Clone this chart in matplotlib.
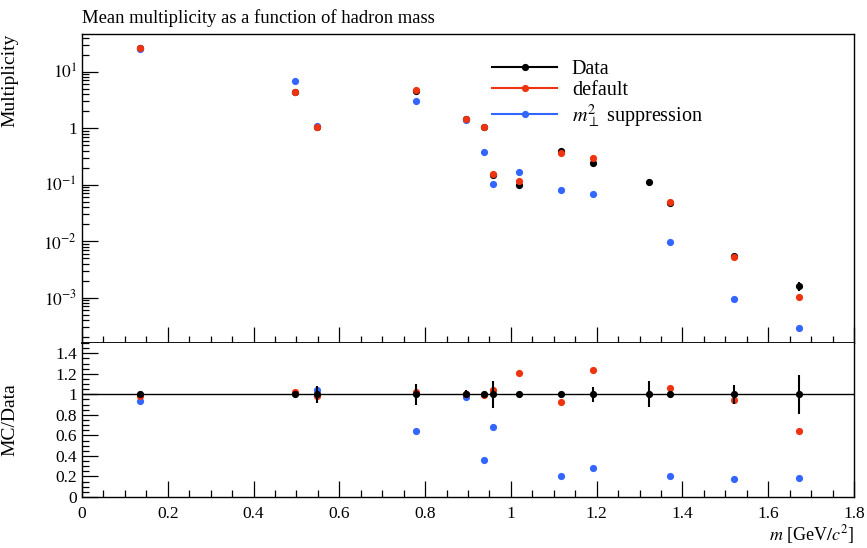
import numpy as np
import matplotlib
matplotlib.use("Agg")
import matplotlib.pyplot as plt
from matplotlib.ticker import FixedLocator, FixedFormatter, MultipleLocator, LogLocator, NullFormatter
from matplotlib.lines import Line2D

# ---- data ----
mass = [0.1350, 0.4976, 0.5479, 0.7790, 0.8960, 0.9383, 0.9578, 1.0195,
        1.1157, 1.1914, 1.3217, 1.3720, 1.5195, 1.6725]
data = [26.5, 4.30, 1.05, 4.60, 1.44, 1.05, 0.150, 0.097,
        0.395, 0.245, 0.110, 0.047, 0.0055, 0.00160]
data_relerr = [0.01, 0.01, 0.08, 0.10, 0.04, 0.01, 0.13, 0.01,
               0.01, 0.075, 0.127, 0.03, 0.09, 0.19]
default = [26.0, 4.39, 1.03, 4.69, 1.44, 1.04, 0.156, 0.117,
           0.364, 0.302, np.nan, 0.050, 0.0052, 0.00103]
mperp = [24.9, 6.9, 1.09, 2.97, 1.40, 0.378, 0.103, 0.165,
         0.079, 0.069, np.nan, 0.0095, 0.00096, 0.00029]

title = "Mean multiplicity as a function of hadron mass"
labels = ["Data", "default", r"$m_{\perp}^{2}$ suppression"]
colors = ["black", "#EE3311", "#3366FF"]

plt.rcParams['font.family'] = ['Liberation Serif', 'DejaVu Serif']
plt.rcParams['mathtext.fontset'] = 'stix'

m = np.array(mass)
d = np.array(data)
de = d * np.array(data_relerr)
df = np.array(default)
mp = np.array(mperp)

W, H = 867, 548
fig = plt.figure(figsize=(W / 100, H / 100), dpi=100)
L, R = 82, 854
ax = fig.add_axes([L / W, 1 - 343 / H, (R - L) / W, (343 - 34) / H])
rx = fig.add_axes([L / W, 1 - 497 / H, (R - L) / W, (497 - 343) / H], sharex=ax)

ms = 5.2
# main panel
ax.plot(m, mp, 'o', color=colors[2], ms=ms, mec='none', zorder=3)
ax.plot(m, df, 'o', color=colors[1], ms=ms, mec='none', zorder=4)
ax.errorbar(m, d, yerr=de, fmt='o', color=colors[0], ms=ms, mec='none',
            elinewidth=1.5, capsize=0, zorder=2)
ax.set_yscale('log')
ax.set_ylim(1.58e-4, 46.4)
ax.set_xlim(0, 1.8)

ax.yaxis.set_major_locator(FixedLocator([1e-3, 1e-2, 1e-1, 1, 10]))
ax.yaxis.set_major_formatter(FixedFormatter([r"$10^{-3}$", r"$10^{-2}$", r"$10^{-1}$", "1", r"$10^{1}$"]))
ax.yaxis.set_minor_locator(LogLocator(base=10, subs=np.arange(2, 10), numticks=20))
ax.yaxis.set_minor_formatter(NullFormatter())
ax.xaxis.set_major_locator(MultipleLocator(0.2))
ax.xaxis.set_minor_locator(MultipleLocator(0.05))
ax.tick_params(axis='x', labelbottom=False)
for a in (ax, rx):
    a.tick_params(which='major', direction='in', length=11.5, width=0.9, labelsize=12.5,
                  top=False, right=False)
    a.tick_params(which='minor', direction='in', length=5, width=0.9, top=False, right=False)
    for s in a.spines.values():
        s.set_linewidth(1.0)
ax.spines['bottom'].set_linewidth(1.3)

ax.set_ylabel("Multiplicity", fontsize=14, loc='top')
ax.yaxis.set_label_coords(-0.082, 1.0)
ax.set_title(title, fontsize=13.4, loc='left', pad=8)

handles = [Line2D([], [], color=c, marker='o', ms=ms, mec='none', lw=1.5) for c in colors]
ax.legend(handles, labels, loc='upper left', bbox_to_anchor=(0.508, 0.975), frameon=False,
          fontsize=14.5, handlelength=3.2, handletextpad=0.75, labelspacing=0.1)

# ratio panel
rx.axhline(1.0, color='black', lw=1.0, zorder=1)
rx.plot(m, mp / d, 'o', color=colors[2], ms=ms, mec='none', zorder=3)
rx.plot(m, df / d, 'o', color=colors[1], ms=ms, mec='none', zorder=4)
rx.errorbar(m, d / d, yerr=np.array(data_relerr), fmt='o', color=colors[0], ms=ms, mec='none',
            elinewidth=1.5, capsize=0, zorder=5)
rx.set_ylim(0, 1.5)
rx.yaxis.set_major_locator(FixedLocator([0, 0.2, 0.4, 0.6, 0.8, 1.0, 1.2, 1.4]))
rx.yaxis.set_major_formatter(FixedFormatter(["0", "0.2", "0.4", "0.6", "0.8", "1", "1.2", "1.4"]))
rx.yaxis.set_minor_locator(MultipleLocator(0.05))
rx.xaxis.set_major_formatter(FixedFormatter(["0", "0.2", "0.4", "0.6", "0.8", "1", "1.2", "1.4", "1.6", "1.8"]))
rx.xaxis.set_major_locator(FixedLocator([0, 0.2, 0.4, 0.6, 0.8, 1.0, 1.2, 1.4, 1.6, 1.8]))
rx.tick_params(axis='x', pad=6.5)
rx.set_ylabel("MC/Data", fontsize=14)
rx.yaxis.set_label_coords(-0.082, 0.5)
rx.set_xlabel(r"$m$ [GeV$/c^{2}$]", fontsize=13, loc='right')
rx.xaxis.set_label_coords(1.0, -0.168)
rx.spines['top'].set_visible(False)

fig.savefig("out.png", dpi=100)
